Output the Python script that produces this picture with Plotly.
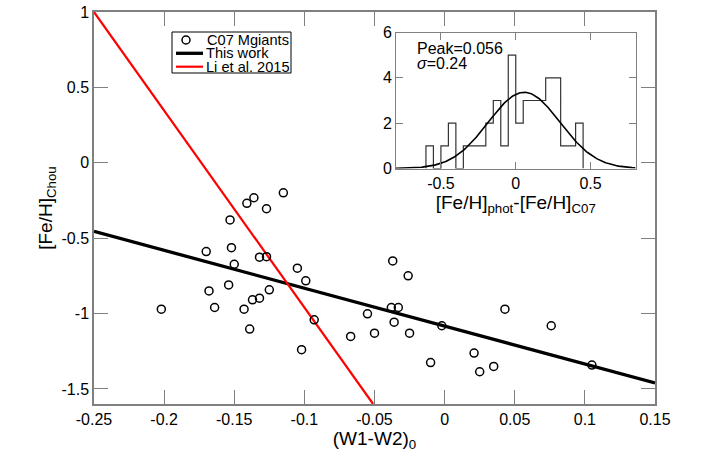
import numpy as np
import plotly.graph_objects as go

# ---- main panel data: C07 M giants ----
c07_color = [-0.202, -0.170, -0.168, -0.164, -0.153, -0.152, -0.150, -0.154, -0.143, -0.139,
             -0.141, -0.136, -0.127, -0.115, -0.132, -0.127, -0.137, -0.132, -0.125, -0.105,
             -0.099, -0.093, -0.102, -0.037, -0.026, -0.038, -0.033, -0.055, -0.067, -0.050,
             -0.036, -0.025, -0.010, -0.002, 0.021, 0.025, 0.035, 0.043, 0.076, 0.105]
c07_feh = [-0.971, -0.589, -0.850, -0.960, -0.379, -0.563, -0.673, -0.810, -0.971, -1.103,
           -0.269, -0.232, -0.305, -0.199, -0.626, -0.623, -0.909, -0.898, -0.843, -0.699,
           -0.783, -1.042, -1.240, -0.651, -0.750, -0.960, -0.960, -1.002, -1.152, -1.130,
           -1.057, -1.130, -1.325, -1.081, -1.262, -1.386, -1.351, -0.971, -1.081, -1.342]

# relations (end points)
this_work_x = [-0.25, 0.15]
this_work_y = [-0.455, -1.46]
li2015_x = [-0.25, -0.051]
li2015_y = [1.0, -1.6]

# ---- inset: histogram of [Fe/H]phot - [Fe/H]C07 ----
bin_edges = [-0.60, -0.55, -0.50, -0.45, -0.40, -0.35, -0.30, -0.25, -0.20, -0.15, -0.10,
             -0.05, 0.00, 0.05, 0.10, 0.15, 0.20, 0.25, 0.30, 0.35, 0.40, 0.45]
bin_counts = [1, 0, 1, 2, 0, 1, 1, 1, 2, 3, 1, 5, 2, 3, 3, 3, 4, 4, 1, 1, 2]
fit_peak = 0.056
fit_sigma = 0.24
fit_amp = 3.36

main_xticks = [-0.25, -0.2, -0.15, -0.1, -0.05, 0, 0.05, 0.1, 0.15]
main_xtext = ["-0.25", "-0.2", "-0.15", "-0.1", "-0.05", "0", "0.05", "0.1", "0.15"]
main_yticks = [-1.5, -1, -0.5, 0, 0.5, 1]
main_ytext = ["-1.5", "-1", "-0.5", "0", "0.5", "1"]
inset_xticks = [-0.5, 0, 0.5]
inset_xtext = ["-0.5", "0", "0.5"]
inset_yticks = [0, 2, 4, 6]

legend_labels = ["C07 Mgiants", "This work", "Li et al. 2015"]

FONT = "Liberation Sans, Arial, Helvetica, sans-serif"
AX = "#808080"

# plot-area geometry (pixels) for placing layout items
L, R, T, B = 94, 655, 12, 404


def px(xp):
    return (xp - L) / (R - L)


def py(yp):
    return (B - yp) / (B - T)


fig = go.Figure()

fig.add_trace(go.Scatter(x=this_work_x, y=this_work_y, mode="lines", name=legend_labels[1],
                         line=dict(color="black", width=3.3), showlegend=False))
fig.add_trace(go.Scatter(x=li2015_x, y=li2015_y, mode="lines", name=legend_labels[2],
                         line=dict(color="#ff0000", width=2.2), showlegend=False))
fig.add_trace(go.Scatter(x=c07_color, y=c07_feh, mode="markers", name=legend_labels[0],
                         marker=dict(symbol="circle-open", size=8, color="black",
                                     line=dict(width=1.5, color="black")),
                         showlegend=False))

# histogram outline as steps
step_x = [bin_edges[0]] + bin_edges
step_y = [0] + bin_counts + [0]
fig.add_trace(go.Scatter(x=step_x, y=step_y, mode="lines", line_shape="hv",
                         line=dict(color="#333333", width=1.2), showlegend=False,
                         xaxis="x2", yaxis="y2"))

gx = np.linspace(-0.8, 0.8, 201)
gy = fit_amp * np.exp(-0.5 * ((gx - fit_peak) / fit_sigma) ** 2)
fig.add_trace(go.Scatter(x=gx, y=gy, mode="lines", line=dict(color="black", width=1.6),
                         showlegend=False, xaxis="x2", yaxis="y2"))

axis_common = dict(showgrid=False, zeroline=False, showline=True, linecolor=AX,
                   tickcolor=AX, ticks="inside", mirror="ticks", automargin=False,
                   tickfont=dict(size=16, color="black", family=FONT))

# manual compact legend (box, samples, labels)
shapes = [
    dict(type="rect", xref="paper", yref="paper", x0=px(172), x1=px(291), y0=py(73), y1=py(32),
         line=dict(color="black", width=1), fillcolor="white", layer="above"),
    dict(type="circle", xref="paper", yref="paper", x0=px(182), x1=px(190), y0=py(44), y1=py(36),
         line=dict(color="black", width=1.5), layer="above"),
    dict(type="line", xref="paper", yref="paper", x0=px(176), x1=px(203), y0=py(53.3), y1=py(53.3),
         line=dict(color="black", width=3.3), layer="above"),
    dict(type="line", xref="paper", yref="paper", x0=px(176), x1=px(203), y0=py(66.7), y1=py(66.7),
         line=dict(color="#ff0000", width=2.2), layer="above"),
]
legend_rows = [40, 53.3, 66.7]
legend_text_x = [205, 203.5, 203.5]

annotations = [
    dict(text="Peak=0.056", xref="paper", yref="paper", x=px(415), y=py(48.5),
         xanchor="left", yanchor="middle", showarrow=False, font=dict(size=16, family=FONT)),
    dict(text="<i>σ</i>=0.24", xref="paper", yref="paper", x=px(415), y=py(63.5),
         xanchor="left", yanchor="middle", showarrow=False, font=dict(size=16, family=FONT)),
]
for lab, yr, xt in zip(legend_labels, legend_rows, legend_text_x):
    annotations.append(dict(text=lab, xref="paper", yref="paper", x=px(xt), y=py(yr),
                            xanchor="left", yanchor="middle", showarrow=False,
                            font=dict(size=14.6, family=FONT)))

fig.update_layout(
    width=724, height=455,
    margin=dict(l=L, r=724 - R, t=T, b=455 - B),
    paper_bgcolor="white", plot_bgcolor="white",
    font=dict(family=FONT, color="black"),
    showlegend=False,
    xaxis=dict(range=[-0.25, 0.15], tickvals=main_xticks, ticktext=main_xtext,
               ticklen=14, tickwidth=1, linewidth=1.5,
               title=dict(text="(W1-W2)<sub>0</sub>", font=dict(size=19), standoff=0),
               **axis_common),
    yaxis=dict(range=[-1.6, 1.0], tickvals=main_yticks, ticktext=main_ytext,
               ticklen=14, tickwidth=1, linewidth=1.5,
               title=dict(text="[Fe/H]<sub>Chou</sub>", font=dict(size=19), standoff=4),
               **axis_common),
    xaxis2=dict(domain=[px(396), px(635.5)], anchor="y2", range=[-0.8, 0.8],
                tickvals=inset_xticks, ticktext=inset_xtext, ticklen=7, tickwidth=1,
                linewidth=1,
                title=dict(text="[Fe/H]<sub>phot</sub>-[Fe/H]<sub>C07</sub>",
                           font=dict(size=19), standoff=2),
                **axis_common),
    yaxis2=dict(domain=[py(168.5), py(32.5)], anchor="x2", range=[0, 6],
                tickvals=inset_yticks, ticktext=["0", "2", "4", "6"], ticklen=7, tickwidth=1,
                linewidth=1, **axis_common),
    shapes=shapes,
    annotations=annotations,
)

fig.write_html("out.html",
               config={"displayModeBar": False},
               post_script="document.body.style.margin='0px';"
                           "document.body.style.padding='0px';"
                           "document.body.style.overflow='hidden';")
